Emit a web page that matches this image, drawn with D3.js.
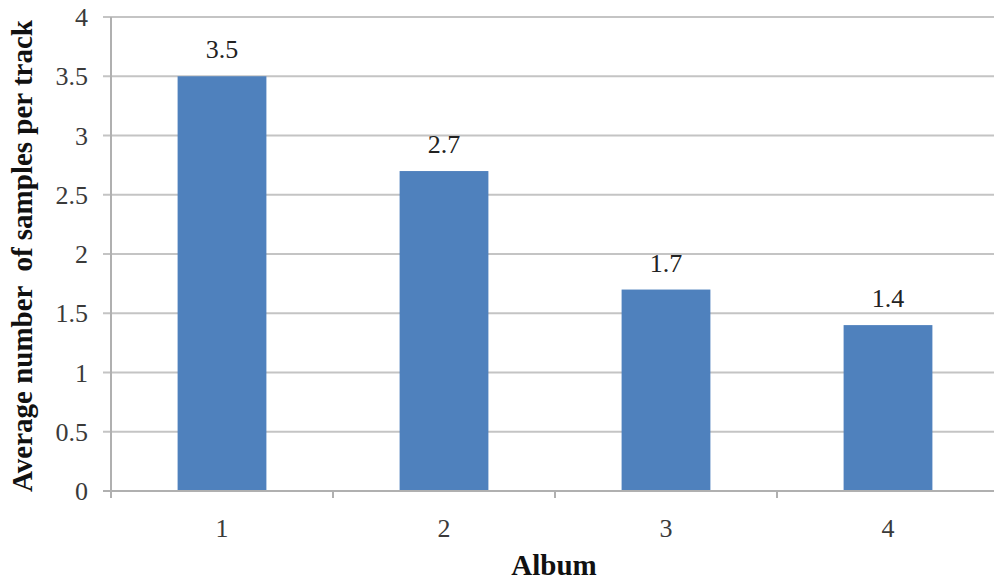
<!DOCTYPE html>
<html>
<head>
<meta charset="utf-8">
<script src="https://cdn.jsdelivr.net/npm/d3@7"></script>
<style>
  html, body { margin: 0; padding: 0; background: #fff; }
  svg { display: block; font-family: "Liberation Serif", "Times New Roman", serif; }
</style>
</head>
<body>
<svg id="chart" width="994" height="581"></svg>
<script>
// Album samples data
const albums = ["1", "2", "3", "4"];
const avgSamples = [3.5, 2.7, 1.7, 1.4];
const yTicks = [0, 0.5, 1, 1.5, 2, 2.5, 3, 3.5, 4];

const svg = d3.select("#chart");
const margin = { left: 111, top: 17, right: 999, bottom: 491 };

const x = d3.scaleBand()
  .domain(albums)
  .range([margin.left, margin.right])
  .paddingInner(0.6)
  .paddingOuter(0.3);

const y = d3.scaleLinear().domain([0, 4]).range([margin.bottom, margin.top]);

// horizontal gridlines
svg.append("g")
  .selectAll("line")
  .data(yTicks)
  .join("line")
  .attr("x1", margin.left - 8)
  .attr("x2", 994)
  .attr("y1", d => y(d))
  .attr("y2", d => y(d))
  .attr("stroke", "#c4c4c4")
  .attr("stroke-width", 2);

// y tick labels
svg.append("g")
  .selectAll("text")
  .data(yTicks)
  .join("text")
  .attr("x", margin.left - 23)
  .attr("y", d => y(d))
  .attr("dy", "0.35em")
  .attr("text-anchor", "end")
  .attr("font-size", 26)
  .attr("fill", "#3a3a3a")
  .text(d => d3.format("")(d));

// bars
svg.append("g")
  .selectAll("rect")
  .data(albums)
  .join("rect")
  .attr("x", d => x(d))
  .attr("width", x.bandwidth())
  .attr("y", (d, i) => y(avgSamples[i]))
  .attr("height", (d, i) => y(0) - y(avgSamples[i]))
  .attr("fill", "#4f81bd");

// value labels
svg.append("g")
  .selectAll("text")
  .data(albums)
  .join("text")
  .attr("x", d => x(d) + x.bandwidth() / 2)
  .attr("y", (d, i) => y(avgSamples[i]) - 18)
  .attr("text-anchor", "middle")
  .attr("font-size", 26)
  .attr("fill", "#222")
  .text((d, i) => avgSamples[i].toFixed(1));

// y axis line
svg.append("line")
  .attr("x1", margin.left).attr("x2", margin.left)
  .attr("y1", margin.top).attr("y2", margin.bottom + 7)
  .attr("stroke", "#b0b0b0").attr("stroke-width", 2);

// x axis line and category boundary ticks
svg.append("line")
  .attr("x1", margin.left - 8).attr("x2", 994)
  .attr("y1", margin.bottom).attr("y2", margin.bottom)
  .attr("stroke", "#b0b0b0").attr("stroke-width", 2);

const step = x.step();
const bounds = d3.range(1, albums.length).map(i => margin.left + i * step);
svg.append("g")
  .selectAll("line")
  .data(bounds)
  .join("line")
  .attr("x1", d => d).attr("x2", d => d)
  .attr("y1", margin.bottom).attr("y2", margin.bottom + 7)
  .attr("stroke", "#b0b0b0").attr("stroke-width", 2);

// x tick labels
svg.append("g")
  .selectAll("text")
  .data(albums)
  .join("text")
  .attr("x", d => x(d) + x.bandwidth() / 2)
  .attr("y", 537)
  .attr("text-anchor", "middle")
  .attr("font-size", 26)
  .attr("fill", "#3a3a3a")
  .text(d => d);

// axis titles
svg.append("text")
  .attr("x", 554)
  .attr("y", 575)
  .attr("text-anchor", "middle")
  .attr("font-size", 29)
  .attr("font-weight", "bold")
  .attr("fill", "#111")
  .text("Album");

svg.append("text")
  .attr("transform", "translate(32,256) rotate(-90)")
  .attr("text-anchor", "middle")
  .attr("font-size", 29)
  .attr("font-weight", "bold")
  .attr("fill", "#111")
  .attr("xml:space", "preserve")
  .style("white-space", "pre")
  .text("Average number  of samples per track");
</script>
</body>
</html>
